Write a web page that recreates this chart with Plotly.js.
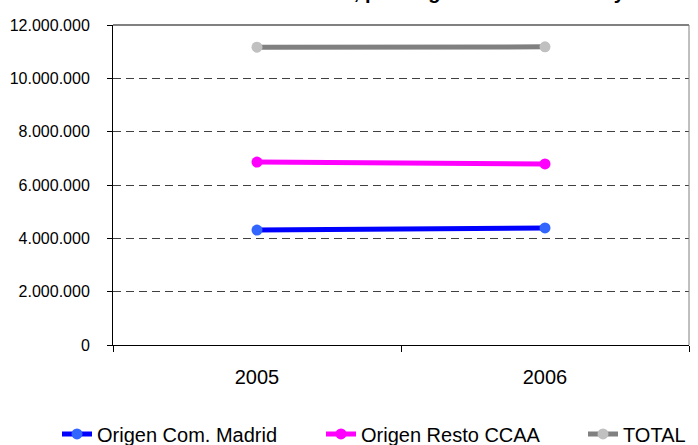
<!DOCTYPE html>
<html>
<head>
<meta charset="utf-8">
<script src="https://cdn.plot.ly/plotly-3.0.1.min.js"></script>
<style>html,body{margin:0;padding:0;background:#fff;}#chart{width:698px;height:445px;}</style>
</head>
<body>
<div id="chart"></div>
<script>
var years = ['2005', '2006'];
var madrid = [4310000, 4390000];
var restoCCAA = [6860000, 6790000];
var total = [11170000, 11180000];
var seriesNames = ['Origen Com. Madrid', 'Origen Resto CCAA', 'TOTAL'];
var yTicks = [0, 2000000, 4000000, 6000000, 8000000, 10000000, 12000000];
var titleText = 'Turistas en hoteles, por origen de la demanda y año';

var font = 'Liberation Sans, Arial, sans-serif';
function tr(name, y, lineColor, markerColor, legendId) {
  return {
    x: years, y: y, name: name, type: 'scatter', mode: 'lines+markers',
    line: {color: lineColor, width: 5},
    marker: {color: markerColor, size: 11},
    legend: legendId
  };
}
var data = [
  tr(seriesNames[0], madrid, '#0000FF', '#3366FF', 'legend'),
  tr(seriesNames[1], restoCCAA, '#FF00FF', '#FF00FF', 'legend2'),
  tr(seriesNames[2], total, '#808080', '#C0C0C0', 'legend3')
];
function leg(xpx) {
  return {
    orientation: 'h', xref: 'container', x: xpx / 698, xanchor: 'left',
    yref: 'container', y: 0.025, yanchor: 'middle',
    font: {family: font, size: 20}, bgcolor: 'rgba(0,0,0,0)'
  };
}
var layout = {
  width: 698, height: 445,
  margin: {l: 113, r: 9, t: 25, b: 100},
  paper_bgcolor: '#fff', plot_bgcolor: '#fff',
  separators: ',.',
  font: {family: font, size: 16, color: '#000'},
  showlegend: true,
  xaxis: {
    type: 'category', range: [-0.5, 1.5], tickson: 'boundaries',
    ticks: 'outside', ticklen: 6, tickcolor: '#000',
    showline: true, linecolor: '#000', linewidth: 1,
    showgrid: false, zeroline: false, ticklabelstandoff: 14,
    tickfont: {family: font, size: 20}
  },
  yaxis: {
    range: [0, 12000000], tickvals: yTicks, tickformat: ',d',
    ticks: 'outside', ticklen: 5, tickcolor: '#000',
    showline: true, linecolor: '#000', linewidth: 1,
    showgrid: true, gridcolor: '#404040', griddash: '8px,5px', gridwidth: 1,
    zeroline: false, ticklabelstandoff: 14,
    tickfont: {family: font, size: 16}
  },
  shapes: [
    {type: 'line', xref: 'paper', yref: 'paper', x0: 0, x1: 1, y0: 1, y1: 1, line: {color: '#808080', width: 2}},
    {type: 'line', xref: 'paper', yref: 'paper', x0: 1, x1: 1, y0: 0, y1: 1, line: {color: '#808080', width: 1}}
  ],
  annotations: [{
    text: '<b>' + titleText + '</b>', xref: 'paper', yref: 'paper',
    x: 0.1007, y: 1.0625, xanchor: 'left', yanchor: 'bottom', showarrow: false,
    font: {family: font, size: 20, color: '#000'}
  }],
  legend: leg(57),
  legend2: leg(321),
  legend3: leg(583)
};
Plotly.newPlot('chart', data, layout, {displayModeBar: false, staticPlot: true});
</script>
</body>
</html>
